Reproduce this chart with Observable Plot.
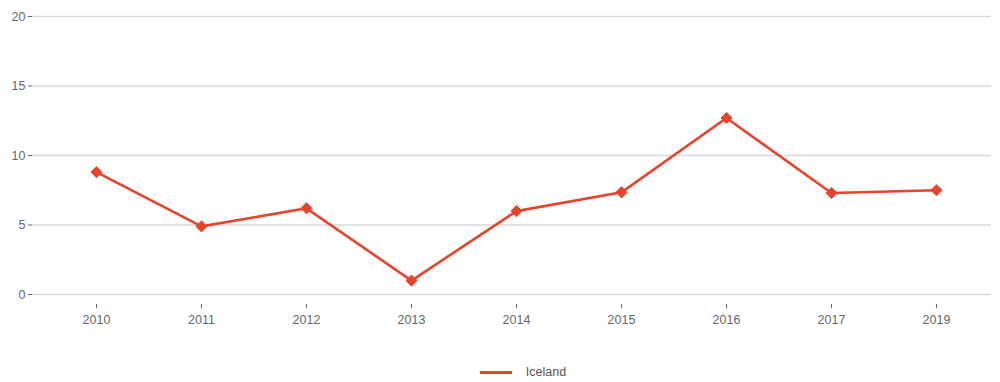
<!DOCTYPE html>
<html>
<head>
<meta charset="utf-8">
<script src="https://cdn.jsdelivr.net/npm/d3@7"></script>
<script src="https://cdn.jsdelivr.net/npm/@observablehq/plot@0.6"></script>
<style>
  html, body { margin: 0; padding: 0; background: #fff; }
  body { width: 1000px; height: 382px; overflow: hidden; font-family: "Liberation Sans", Arial, sans-serif; }
  #chart svg { display: block; }
  #legend { height: 32px; padding-top: 12px; display: flex; justify-content: center; align-items: center; font-size: 12.5px; color: #555; padding-left: 46px; box-sizing: border-box; }
  #legend .sw { width: 32px; height: 3px; background: #e8432b; margin-right: 14px; }
</style>
</head>
<body>
<div id="chart"></div>
<div id="legend"><span class="sw"></span><span>Iceland</span></div>
<script>
const years = ["2010", "2011", "2012", "2013", "2014", "2015", "2016", "2017", "2019"];
const iceland = [8.8, 4.9, 6.2, 1.0, 6.0, 7.35, 12.7, 7.3, 7.5];
const yTicks = [0, 5, 10, 15, 20];
const seriesName = "Iceland";
const color = "#e8432b";

const data = years.map((y, i) => ({year: y, value: iceland[i], series: seriesName}));

const chart = Plot.plot({
  width: 1000,
  height: 350,
  marginLeft: 32,
  marginRight: 9,
  marginTop: 16,
  marginBottom: 46,
  insetBottom: 10,
  insetLeft: 8,
  style: {fontFamily: "'Liberation Sans', Arial, sans-serif", fontSize: "12.5px", color: "#666"},
  x: {type: "point", domain: years, padding: 0.5, label: null},
  y: {domain: [0, 20], label: null},
  marks: [
    Plot.gridY(yTicks, {stroke: "#d9d9d9", strokeOpacity: 1, strokeWidth: 1.5}),
    Plot.axisY(yTicks, {tickSize: 4, tickPadding: 3, stroke: "#666", fill: "#666", fontSize: 12.5}),
    Plot.axisX({tickSize: 4, tickPadding: 7, stroke: "#666", fill: "#666", fontSize: 12.5}),
    Plot.line(data, {x: "year", y: "value", stroke: color, strokeWidth: 2.6}),
    Plot.dot(data, {x: "year", y: "value", symbol: "diamond2", r: 5, fill: color, stroke: color, strokeWidth: 1})
  ]
});
document.getElementById("chart").appendChild(chart);
</script>
</body>
</html>
